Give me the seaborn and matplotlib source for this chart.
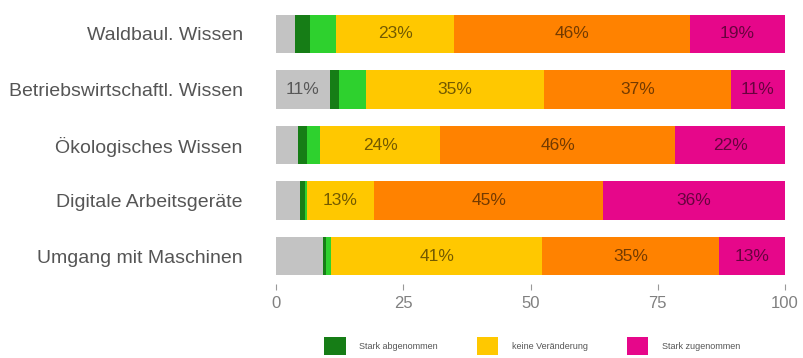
import numpy as np
import pandas as pd
import matplotlib
matplotlib.use("Agg")
import matplotlib.pyplot as plt
import seaborn as sns
from matplotlib.patches import Patch

categories = ["Waldbaul. Wissen", "Betriebswirtschaftl. Wissen", "Ökologisches Wissen",
              "Digitale Arbeitsgeräte", "Umgang mit Maschinen"]
keine_angabe = [3.8, 10.6, 4.3, 4.7, 9.2]
stark_abgenommen = [2.8, 1.8, 1.7, 1.0, 0.7]
abgenommen = [5.2, 5.2, 2.7, 0.3, 1.0]
keine_veraenderung = [23.2, 35.1, 23.6, 13.3, 41.4]
zugenommen = [46.3, 36.6, 46.1, 45.0, 34.7]
stark_zugenommen = [18.7, 10.7, 21.6, 35.7, 13.0]

series_names = ["keine Angabe", "Stark abgenommen", "Abgenommen",
                "keine Veränderung", "Zugenommen", "Stark zugenommen"]
series_values = [keine_angabe, stark_abgenommen, abgenommen,
                 keine_veraenderung, zugenommen, stark_zugenommen]
colors = ["#c3c3c3", "#167d16", "#2ed12e", "#ffc800", "#ff8200", "#e6078a"]
legend_idx = [1, 3, 5]
xticks = [0, 25, 50, 75, 100]

sns.set_theme(style="white")
plt.rcParams['font.family'] = ['Liberation Sans', 'DejaVu Sans']

fig = plt.figure(figsize=(8.04, 3.58), dpi=100)
ax = fig.add_axes([276 / 804, 1 - 284 / 358, (785 - 276) / 804, 278 / 358])

vals = np.array(series_values)
cum = np.cumsum(vals, axis=0)
for i in range(len(series_names) - 1, -1, -1):
    df = pd.DataFrame({"cat": categories, "v": cum[i]})
    sns.barplot(data=df, x="v", y="cat", color=colors[i], width=0.69,
                saturation=1, ax=ax, orient="h", linewidth=0, edgecolor="none")

starts = cum - vals
for i in range(len(series_names)):
    for j in range(len(categories)):
        v = vals[i, j]
        if v >= 10:
            ax.text(starts[i, j] + v / 2, j, f"{round(v)}%", ha="center", va="center",
                    fontsize=12.5, color="black", alpha=0.55)

ax.set_xlim(0, 100)
ax.set_ylim(4.5, -0.5)
ax.set_xticks(xticks)
ax.set_xticklabels([str(t) for t in xticks])
ax.set_xlabel("")
ax.set_ylabel("")
for s in ax.spines.values():
    s.set_visible(False)
ax.tick_params(axis="x", bottom=True, length=4, width=0.8, color="#999999",
               labelsize=12, labelcolor="#808080", pad=5)
ax.tick_params(axis="y", left=False, labelsize=14, labelcolor="#555555", pad=18)

handles = [Patch(facecolor=colors[i], edgecolor="none") for i in legend_idx]
labels = [series_names[i] for i in legend_idx]
fig.legend(handles, labels, loc="center", bbox_to_anchor=(532 / 804, 1 - 346 / 358),
           ncol=3, frameon=False, fontsize=6.5, handlelength=2.4, handleheight=2.6,
           columnspacing=4.3, handletextpad=1.5, labelcolor="#555555")

fig.savefig("out.png", dpi=100)
